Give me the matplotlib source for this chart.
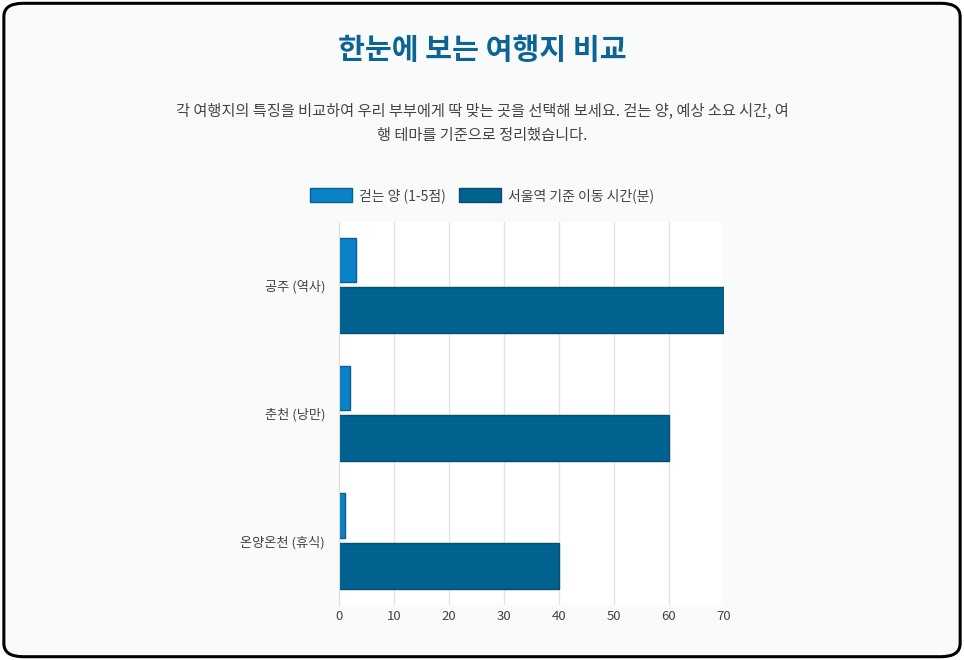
import matplotlib.pyplot as plt
import numpy as np
from matplotlib.patches import FancyBboxPatch

plt.rcParams['font.family'] = ['Noto Sans CJK KR', 'DejaVu Sans']

places = ['공주 (역사)', '춘천 (낭만)', '온양온천 (휴식)']
walk_score = [3, 2, 1]
travel_min = [70, 60, 40]
walk_label = '걷는 양 (1-5점)'
time_label = '서울역 기준 이동 시간(분)'

fig = plt.figure(figsize=(9.64, 6.6), dpi=100)
fig.patch.set_facecolor('white')
# rounded card behind everything
card = FancyBboxPatch((0.004, 0.005), 0.992, 0.99, boxstyle='round,pad=0,rounding_size=0.02',
                      transform=fig.transFigure, facecolor='#f9fbfb', edgecolor='black',
                      linewidth=2.2, zorder=-10)
fig.patches.append(card)

fig.text(0.5, 0.925, '한눈에 보는 여행지 비교', ha='center', va='center', fontsize=21,
         fontweight='bold', color='#0b6494')
fig.text(0.5, 0.813, '각 여행지의 특징을 비교하여 우리 부부에게 딱 맞는 곳을 선택해 보세요. 걷는 양, 예상 소요 시간, 여\n'
         '행 테마를 기준으로 정리했습니다.', ha='center', va='center', fontsize=11,
         color='#444444', linespacing=1.6)

ax = fig.add_axes([0.3517, 0.083, 0.3994, 0.581])
ax.set_facecolor('white')
y = np.arange(len(places))
ax.barh(y - 0.2, walk_score, height=0.35, color='#0a82c8', edgecolor='#0a5f8c', linewidth=1, label=walk_label)
ax.barh(y + 0.19, travel_min, height=0.36, color='#00628f', edgecolor='#0a4d6e', linewidth=1, label=time_label)
ax.set_ylim(2.5, -0.5)
ax.set_xlim(0, 70)
ax.set_xticks(range(0, 71, 10))
ax.set_yticks(y)
ax.set_yticklabels(places)
ax.tick_params(axis='both', labelsize=9.5, colors='#444444', length=0)
ax.tick_params(axis='y', pad=10)
ax.grid(axis='x', color='#e3e3e3', linewidth=1)
ax.set_axisbelow(True)
for s in ['top', 'right', 'bottom']:
    ax.spines[s].set_visible(False)
ax.spines['left'].set_color('#dddddd')

fig.legend(loc='center', bbox_to_anchor=(0.5, 0.704), ncol=2, frameon=False, fontsize=10,
           handlelength=3, handleheight=1.1, columnspacing=1.0, handletextpad=0.5, labelcolor='#444444')

fig.savefig('out.png', dpi=100, facecolor='white')
